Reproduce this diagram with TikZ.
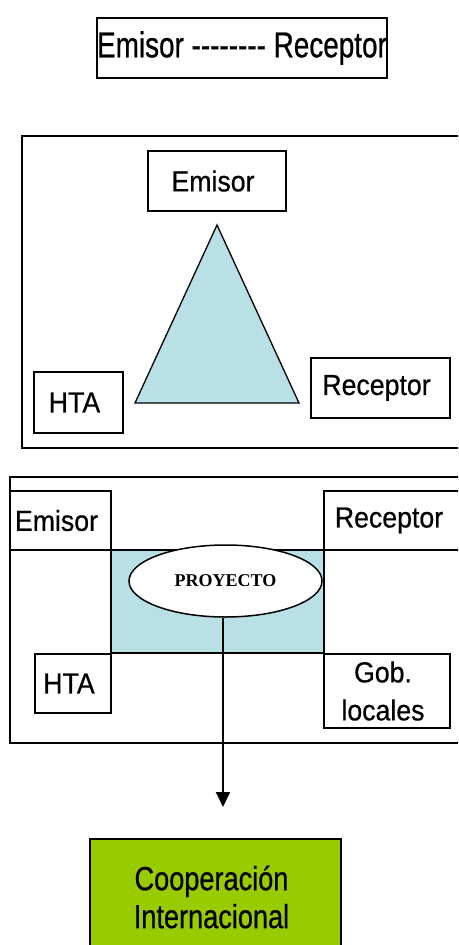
\documentclass[tikz,border=0pt]{standalone}
\usepackage{fontspec}
\setmainfont{Liberation Sans}[FakeStretch=0.92,FakeBold=0.6]
\newfontfamily\topfont{Liberation Sans}[FakeStretch=0.775,FakeBold=0.6]
\newfontfamily\greenfont{Liberation Sans}[FakeStretch=0.81,FakeBold=0.6]
\newfontfamily\proyfont{Liberation Serif}
\usetikzlibrary{arrows.meta,shapes.geometric}
\definecolor{celeste}{RGB}{185,224,228}
\definecolor{verde}{RGB}{153,204,0}
\newcommand\izq[1]{\hspace*{-8pt}#1}

\begin{document}
\begin{tikzpicture}[x=1pt,y=-1pt,
  caja/.style={draw,line width=2pt,inner sep=0pt,align=center,font=\fontsize{29}{38}\selectfont},
  marco/.style={draw,line width=2pt,inner sep=0pt}]
  \clip (0,0) rectangle (458,945);
  \fill[white] (0,0) rectangle (458,945);
  \node[caja,minimum width=290pt,minimum height=60pt,font=\fontsize{36}{40}\topfont] (titulo) at (242,48) {Emisor -\kern0pt-\kern0pt-\kern0pt-\kern0pt-\kern0pt-\kern0pt-\kern0pt- Receptor};
  \node[marco,minimum width=452pt,minimum height=312pt] (marcoB) at (248,292) {};
  \fill[celeste,draw=black,line width=1.3pt] (217,225) -- (135,403) -- (299,403) -- cycle;
  \node[caja,minimum width=138pt,minimum height=60pt] (emisorB) at (217,181) {\izq{Emisor}};
  \node[caja,minimum width=89pt,minimum height=61pt] (htaB) at (78.5,402.5) {\izq{HTA}};
  \node[caja,minimum width=139pt,minimum height=60pt] (receptorB) at (380.5,388) {\izq{Receptor}};
  \node[marco,minimum width=460pt,minimum height=266pt] (marcoC) at (240,610) {};
  \node[marco,fill=celeste,minimum width=213pt,minimum height=103pt] (proyArea) at (217.5,601.5) {};
  \node[caja,minimum width=101pt,minimum height=59pt] (emisorC) at (60.5,520.5) {\izq{Emisor}};
  \node[caja,minimum width=140pt,minimum height=59pt] (receptorC) at (394,520.5) {\hspace*{-10pt}Receptor};
  \node[caja,minimum width=76pt,minimum height=59pt] (htaC) at (73,683.5) {\izq{HTA}};
  \node[caja,minimum width=126pt,minimum height=74pt] (gobC) at (387,691) {\izq{Gob.}\\\izq{locales}};
  \node[draw,ellipse,fill=white,line width=1.5pt,minimum width=193pt,minimum height=72pt,inner sep=0pt,font=\fontsize{18}{20}\proyfont\bfseries] (proyecto) at (225.5,581) {PROYECTO};
  \coordinate (fin) at (223,807);
  \draw[line width=2pt,-{Triangle[width=14pt,length=15pt]}] (proyecto.south -| fin) -- (fin);
  \node[caja,fill=verde,minimum width=251pt,minimum height=116pt,font=\fontsize{33.5}{38}\greenfont] (cooperacion) at (215.5,897) {\izq{Cooperación}\\\izq{Internacional}};
\end{tikzpicture}
\end{document}
